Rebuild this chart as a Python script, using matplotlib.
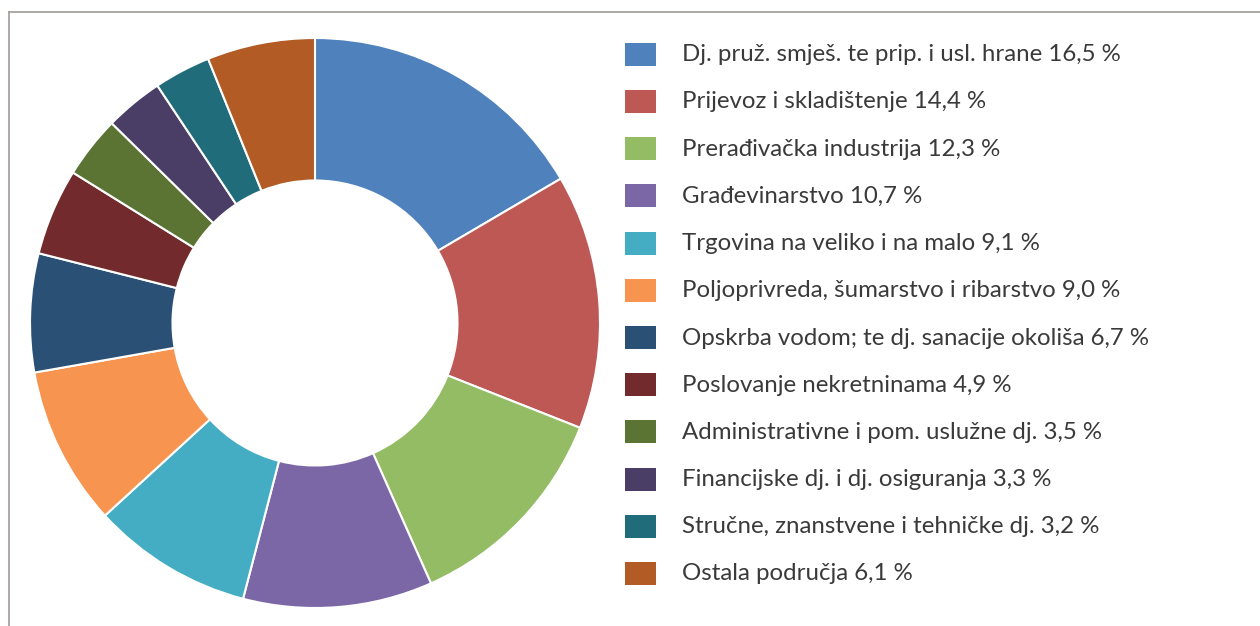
import matplotlib
matplotlib.use("Agg")
import matplotlib.pyplot as plt
from matplotlib.patches import Rectangle
from matplotlib.lines import Line2D

categories = [
    "Dj. pruž. smješ. te prip. i usl. hrane",
    "Prijevoz i skladištenje",
    "Prerađivačka industrija",
    "Građevinarstvo",
    "Trgovina na veliko i na malo",
    "Poljoprivreda, šumarstvo i ribarstvo",
    "Opskrba vodom; te dj. sanacije okoliša",
    "Poslovanje nekretninama",
    "Administrativne i pom. uslužne dj.",
    "Financijske dj. i dj. osiguranja",
    "Stručne, znanstvene i tehničke dj.",
    "Ostala područja",
]
values = [16.5, 14.4, 12.3, 10.7, 9.1, 9.0, 6.7, 4.9, 3.5, 3.3, 3.2, 6.1]
colors = ["#4F82BD", "#BE5855", "#93BC65", "#7C67A6", "#44ADC4", "#F79550",
          "#2B5076", "#732A2C", "#5B7434", "#4A3D66", "#216C7B", "#B25B25"]

W, H = 1260, 626
fig = plt.figure(figsize=(W / 100, H / 100), dpi=100)
fig.patch.set_facecolor("white")

# donut: center (315, 323) px from top, outer radius 285
cx, cy, R = 315, 323, 285
ax = fig.add_axes([(cx - R) / W, (H - cy - R) / H, 2 * R / W, 2 * R / H])
wedges, _ = ax.pie(values, colors=colors, startangle=90, counterclock=False,
                   radius=1.0,
                   wedgeprops=dict(width=0.5, edgecolor="white", linewidth=1.5))
ax.set_xlim(-1, 1)
ax.set_ylim(-1, 1)
ax.set_aspect("equal")
ax.axis("off")

# frame lines (top and left)
fig.add_artist(Line2D([9 / W, 1], [1 - 12 / H, 1 - 12 / H], color="#A8A39F", lw=1.3))
fig.add_artist(Line2D([9 / W, 9 / W], [0, 1 - 12 / H], color="#A8A39F", lw=1.3))

# legend
y0, dy = 54.3, 47.2
for i, (cat, val, col) in enumerate(zip(categories, values, colors)):
    yc = y0 + i * dy
    fig.add_artist(Rectangle((625 / W, 1 - (yc + 11.5) / H), 31 / W, 23 / H,
                             facecolor=col, edgecolor="none", transform=fig.transFigure))
    num = f"{val:.1f}".replace(".", ",")
    fig.text(682 / W, 1 - (yc - 1.5) / H, f"{cat} {num} %", fontsize=17.3, family="Lato",
             color="#3a3a3a", va="center_baseline", ha="left")

fig.savefig("out.png", dpi=100, facecolor="white")
